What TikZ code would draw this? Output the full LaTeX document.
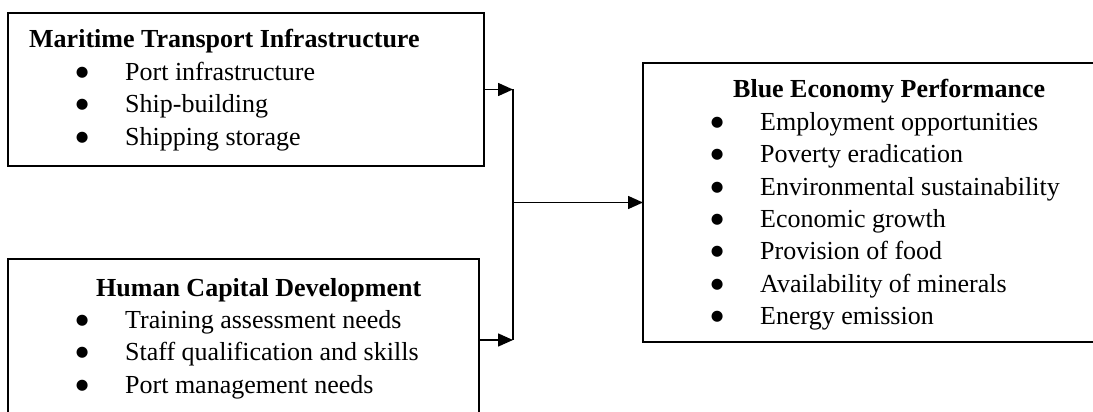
\documentclass[tikz,border=0pt]{standalone}
\usepackage{fontspec}
\setmainfont{Liberation Serif}
\newfontfamily\symfont{DejaVu Sans}
\usetikzlibrary{arrows.meta}
\newcommand{\bulitem}[1]{\hspace*{74pt}\makebox[0pt]{\raisebox{4pt}{\fontsize{14.5}{14.5}\symfont ●}}\hspace*{43pt}#1}
\tikzset{
  box/.style={draw, line width=2pt, inner sep=0pt, outer sep=0pt, anchor=north west},
  txt/.style={inner sep=0pt, anchor=base west, font=\fontsize{26}{32.4}\selectfont},
  conn/.style={line width=1.6pt},
  arr/.style={conn, -{Triangle[length=15pt,width=13pt]}}
}
\begin{document}
\begin{tikzpicture}[x=1pt,y=-1pt]
\useasboundingbox (0,0) rectangle (1093,412);
\clip (0,0) rectangle (1093,412);
% boxes
\node[box, minimum width=476pt, minimum height=153pt] (mti) at (8,13) {};
\node[box, minimum width=471pt, minimum height=162pt] (hcd) at (8,259) {};
\node[box, minimum width=460pt, minimum height=279pt] (bep) at (643,63) {};
% texts
\node[txt] (mtitxt) at ([yshift=-35pt]mti.north west) {\begin{tabular}[t]{@{}l@{}}
\hspace*{21pt}\textbf{Maritime Transport Infrastructure}\\
\bulitem{Port infrastructure}\\
\bulitem{Ship-building}\\
\bulitem{Shipping storage}
\end{tabular}};
\node[txt] (hcdtxt) at ([yshift=-37pt]hcd.north west) {\begin{tabular}[t]{@{}l@{}}
\hspace*{88pt}\textbf{Human Capital Development}\\
\bulitem{Training assessment needs}\\
\bulitem{Staff qualification and skills}\\
\bulitem{Port management needs}
\end{tabular}};
\node[txt] (beptxt) at ([yshift=-35pt]bep.north west) {\begin{tabular}[t]{@{}l@{}}
\hspace*{90pt}\textbf{Blue Economy Performance}\\
\bulitem{Employment opportunities}\\
\bulitem{Poverty eradication}\\
\bulitem{Environmental sustainability}\\
\bulitem{Economic growth}\\
\bulitem{Provision of food}\\
\bulitem{Availability of minerals}\\
\bulitem{Energy emission}
\end{tabular}};
% connectors
\coordinate (jx) at (513,0);
\coordinate (j1) at (mti.east -| jx);
\coordinate (j2) at (hcd.east -| jx);
\coordinate (jm) at (bep.west -| jx);
\draw[arr] (mti.east) -- (j1);
\draw[arr] (hcd.east) -- (j2);
\draw[conn] (j1) -- (j2);
\draw[arr] (jm) -- (bep.west);
\end{tikzpicture}
\end{document}
